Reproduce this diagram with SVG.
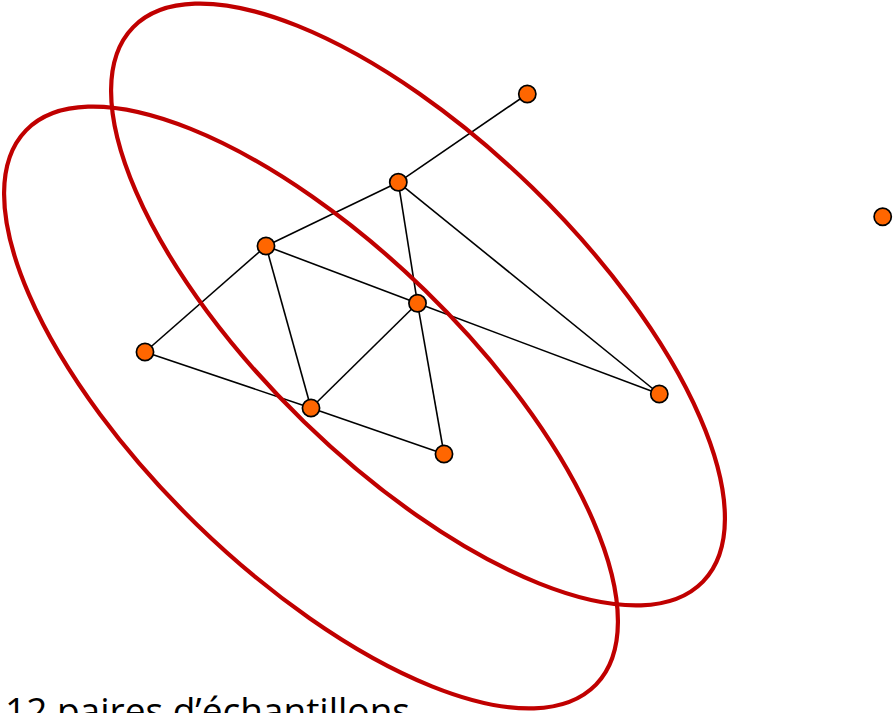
<svg xmlns="http://www.w3.org/2000/svg" width="895" height="713" viewBox="0 0 895 713">
<style>
.ell{fill:none;stroke:#C00000;stroke-width:4.2}
.edge{stroke:#000;stroke-width:1.6;fill:none}
.node{fill:#FF6600;stroke:#000;stroke-width:1.7}
.lbl{font-family:"Open Sans","Liberation Sans",sans-serif;font-size:37px;fill:#000}
</style>
<rect width="895" height="713" fill="#fff"/>
<g id="connectors">
<line class="edge" x1="527.3" y1="94" x2="398.3" y2="182.3"/>
<line class="edge" x1="398.3" y1="182.3" x2="266" y2="246"/>
<line class="edge" x1="398.3" y1="182.3" x2="417.5" y2="303.3"/>
<line class="edge" x1="398.3" y1="182.3" x2="659.3" y2="394"/>
<line class="edge" x1="266" y1="246" x2="145" y2="352"/>
<line class="edge" x1="266" y1="246" x2="311" y2="408"/>
<line class="edge" x1="266" y1="246" x2="417.5" y2="303.3"/>
<line class="edge" x1="417.5" y1="303.3" x2="659.3" y2="394"/>
<line class="edge" x1="417.5" y1="303.3" x2="311" y2="408"/>
<line class="edge" x1="417.5" y1="303.3" x2="444" y2="454"/>
<line class="edge" x1="145" y1="352" x2="311" y2="408"/>
<line class="edge" x1="311" y1="408" x2="444" y2="454"/>
</g>
<g id="nodes">
<g id="nA"><circle class="node" cx="527.3" cy="94" r="8.6"/></g>
<g id="nB"><circle class="node" cx="398.3" cy="182.3" r="8.6"/></g>
<g id="nC"><circle class="node" cx="266" cy="246" r="8.6"/></g>
<g id="nD"><circle class="node" cx="417.5" cy="303.3" r="8.6"/></g>
<g id="nE"><circle class="node" cx="145" cy="352" r="8.6"/></g>
<g id="nF"><circle class="node" cx="311" cy="408" r="8.6"/></g>
<g id="nG"><circle class="node" cx="444" cy="454" r="8.6"/></g>
<g id="nH"><circle class="node" cx="659.3" cy="394" r="8.6"/></g>
<g id="nI"><circle class="node" cx="882.7" cy="216.7" r="8.6"/></g>
</g>
<g id="ellipses">
<ellipse class="ell" cx="418" cy="304.5" rx="397.5" ry="163.5" transform="rotate(44.2 418 304.5)"/>
<ellipse class="ell" cx="311" cy="407.5" rx="397.5" ry="163.5" transform="rotate(44.2 311 407.5)"/>
</g>
<text class="lbl" x="5" y="724" textLength="405" lengthAdjust="spacingAndGlyphs">12 paires d’échantillons</text>
</svg>
